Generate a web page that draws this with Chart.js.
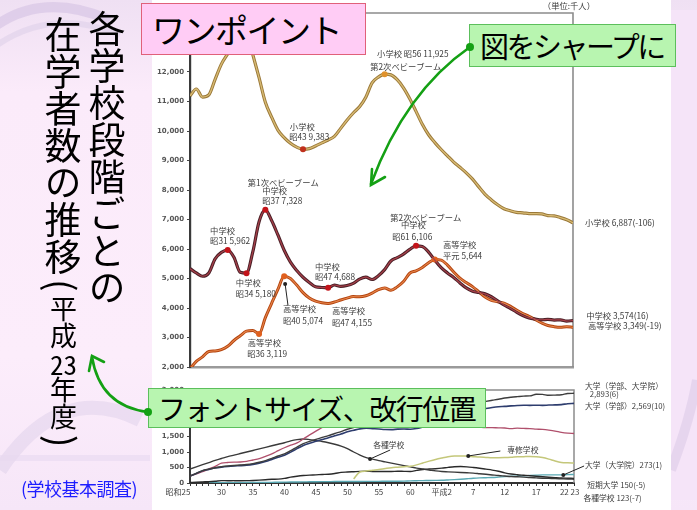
<!DOCTYPE html>
<html><head><meta charset="utf-8">
<script src="https://cdn.jsdelivr.net/npm/chart.js@4.4.1/dist/chart.umd.min.js"></script>
<style>
html,body{margin:0;padding:0;width:697px;height:510px;overflow:hidden;}
body{position:relative;background:linear-gradient(180deg,#efe0f3 0%,#fbebfa 18%,#fcedfb 70%,#f6e6f8 100%);font-family:"Noto Sans CJK JP",sans-serif;}
#deco{position:absolute;left:0;top:0;z-index:0;}
#panel{position:absolute;left:152px;top:0;width:519px;height:510px;background:#fff;z-index:1;}
canvas{position:absolute;left:0;top:0;z-index:2;}
.box{position:absolute;box-sizing:border-box;white-space:nowrap;color:#000;line-height:1;display:flex;align-items:center;z-index:4;font-family:"Noto Sans CJK JP",sans-serif;}
#b1{left:141px;top:3px;width:225px;height:52px;background:#ffccf5;border:1.5px solid #e0607a;font-size:33px;letter-spacing:-1.5px;padding-left:10px;}
#b2{left:469px;top:24px;width:207px;height:43px;background:#b8f5b0;border:1.5px solid #5cbf5c;font-size:29px;letter-spacing:-2.5px;padding-left:10px;}
#b3{left:148px;top:388px;width:338px;height:40px;background:#b8f5b0;border:1.5px solid #5cbf5c;font-size:28px;letter-spacing:-1.5px;padding-left:9px;}
.vt{position:absolute;writing-mode:vertical-rl;line-height:1;color:#000;z-index:3;font-family:"Noto Sans CJK JP",sans-serif;white-space:nowrap;}
.tcy{text-combine-upright:all;}
.par{font-size:37px;margin-inline:4px;}
#src{position:absolute;left:21px;top:475px;font-size:18px;color:#1e1eff;z-index:3;white-space:nowrap;letter-spacing:-0.5px;}
#arrows{position:absolute;left:0;top:0;z-index:5;}
</style>
</head>
<body>
<svg id="deco" width="697" height="510">
  <path d="M-10,30 Q40,-10 110,20" stroke="#d4c2e2" stroke-width="10" fill="none" opacity="0.6"/>
  <path d="M-10,50 Q50,5 120,35" stroke="#ddd0ea" stroke-width="6" fill="none" opacity="0.6"/>
  <path d="M0,470 Q60,380 140,420" stroke="#ddd0ea" stroke-width="14" fill="none" opacity="0.5"/>
  <rect x="0" y="455" width="150" height="6" fill="#e8d8f0" opacity="0.6"/>
  <rect x="671" y="10" width="26" height="490" fill="#f5e4f8"/>
  <path d="M671,470 Q690,420 697,380" stroke="#dccbe8" stroke-width="10" fill="none" opacity="0.6"/>
</svg>
<div id="panel"></div>
<canvas id="c1" width="697" height="510"></canvas>
<canvas id="c2" width="697" height="510"></canvas>

<div class="vt" style="left:88px;top:10px;font-size:37px;">各学校段階ごとの</div>
<div class="vt" style="left:44px;top:16px;font-size:37px;">在学者数の推移<span class="par">(</span><span style="font-size:27px">平成<span class="tcy">23</span>年度</span><span class="par">)</span></div>
<div id="src">(学校基本調査)</div>

<div class="box" id="b1">ワンポイント</div>
<div class="box" id="b2">図をシャープに</div>
<div class="box" id="b3">フォントサイズ、改行位置</div>

<svg id="arrows" width="697" height="510">
  <g stroke="#14a014" stroke-width="2.6" fill="none" stroke-linecap="round">
    <path d="M470,47 Q405,92 371,184"/>
    <path d="M372,169 L371,185 L385,177"/>
    <path d="M148,412 Q100,406 92,357"/>
    <path d="M89,371 L92,356 L104,362"/>
  </g>
  <circle cx="470" cy="47" r="4" fill="#14a014"/>
  <circle cx="148" cy="412" r="4" fill="#14a014"/>
</svg>

<script>
// ---------- data (thousands of students) ----------
const years = [1950,1951,1952,1953,1954,1955,1956,1957,1958,1959,
  1960,1961,1962,1963,1964,1965,1966,1967,1968,1969,
  1970,1971,1972,1973,1974,1975,1976,1977,1978,1979,
  1980,1981,1982,1983,1984,1985,1986,1987,1988,1989,
  1990,1991,1992,1993,1994,1995,1996,1997,1998,1999,
  2000,2001,2002,2003,2004,2005,2006,2007,2008,2009,
  2010,2011];

const elementary = [11191,11423,11148,11225,11751,12267,12616,12956,13492,13375,
  12591,11811,10977,10471,10031,9776,9584,9452,9383,9404,
  9493,9596,9696,9816,10089,10365,10610,10819,11146,11630,
  11827,11925,11902,11739,11465,11095,10665,10227,9873,9607,
  9373,9157,8947,8769,8583,8370,8106,7855,7664,7500,
  7366,7297,7239,7227,7201,7197,7188,7133,7122,7064,
  6993,6887];

const juniorHigh = [5333,5188,5076,5187,5664,5884,5962,5718,5210,5180,
  5900,6925,7328,6964,6475,5957,5556,5271,5043,4865,
  4717,4694,4688,4779,4735,4762,4833,4977,5048,4966,
  5094,5300,5594,5707,5828,5990,6106,6081,5896,5619,
  5369,5189,5037,4850,4681,4571,4528,4481,4381,4244,
  4104,3992,3863,3748,3664,3626,3602,3615,3592,3600,
  3558,3574];

const highSchool = [1935,2193,2342,2528,2545,2592,2703,2898,3057,3216,
  3239,3119,3675,4159,4634,5074,4998,4776,4522,4337,
  4232,4179,4155,4201,4270,4333,4386,4380,4414,4504,
  4622,4682,4601,4716,4896,5178,5259,5375,5534,5644,
  5623,5455,5218,5010,4863,4725,4547,4371,4258,4212,
  4165,4062,3929,3810,3719,3605,3495,3407,3367,3347,
  3368,3349];

const univTotal = [225,313,400,447,492,523,547,565,579,597,
  626,669,723,796,872,938,1044,1160,1270,1345,
  1407,1470,1530,1597,1659,1734,1791,1840,1863,1849,
  1835,1822,1818,1836,1844,1849,1880,1935,1995,2067,
  2133,2205,2293,2390,2482,2547,2597,2634,2668,2701,
  2740,2766,2786,2804,2809,2865,2859,2829,2836,2846,
  2887,2893];

const univUndergrad = [224,310,395,440,483,512,533,549,560,575,
  601,642,693,762,834,896,997,1108,1213,1285,
  1344,1404,1461,1524,1581,1652,1702,1747,1766,1754,
  1742,1728,1723,1738,1741,1734,1758,1805,1856,1917,
  1989,2056,2139,2222,2298,2330,2366,2403,2436,2461,
  2471,2487,2500,2507,2505,2509,2505,2514,2520,2528,
  2559,2569];

const kindergarten = [225,296,363,454,537,644,662,673,678,697,
  742,790,861,941,1042,1138,1222,1293,1420,1552,
  1675,1790,1915,2073,2220,2293,2372,2453,2497,2487,
  2407,2293,2228,2192,2125,2067,2018,2017,2041,2037,
  2008,1978,1949,1908,1852,1808,1798,1789,1786,1779,
  1774,1753,1770,1761,1753,1738,1727,1705,1675,1631,
  1606,1596];

const specialTraining = [null,null,null,null,null,null,null,null,null,null,
  null,null,null,null,null,null,null,null,null,null,
  null,null,null,null,null,null,131,357,385,410,
  432,465,495,510,525,540,585,645,705,760,
  805,845,870,875,865,850,835,825,815,815,
  820,830,845,850,855,850,820,770,710,665,
  650,645];

const miscSchools = [450,520,590,660,730,790,850,900,950,1000,
  1050,1100,1150,1200,1250,1300,1360,1400,1420,1400,
  1370,1340,1300,1250,1190,1110,1000,900,820,770,
  720,680,640,600,560,520,480,450,420,390,
  370,360,350,340,330,320,300,280,260,240,
  225,210,200,190,175,165,155,148,140,135,
  130,123];

const juniorCollege = [15,27,36,44,58,77,74,75,74,76,
  83,93,106,121,126,148,189,218,240,254,
  263,276,284,307,343,354,364,374,379,372,
  371,372,372,380,375,371,407,437,450,462,
  479,504,524,530,520,499,474,446,417,378,
  328,290,267,250,233,219,202,186,172,160,
  155,150];

const gradSchool = [null,null,null,2,6,10,11,12,13,14,
  16,17,18,21,25,28,31,33,35,38,
  41,43,45,47,48,48,49,50,51,53,
  54,55,56,58,61,70,74,78,81,85,
  90,99,109,122,138,153,164,171,178,191,
  205,216,224,231,244,254,261,262,263,263,
  271,273];

// highlighted points (years)
const elemMarks = [1968, 1981];
const jhMarks = [1956, 1959, 1962, 1972, 1986];
const hsMarks = [1961, 1965, 1989];

// x-axis tick labels of lower chart
const lowerTickYears  = [1950,1955,1960,1965,1970,1975,1980,1985,1990,1995,2000,2005,2010];
const lowerTickLabels = ['昭和25','30','35','40','45','50','55','60','平成2','7','12','17','22 23'];

// annotation texts (anchored in data units)
const upperNotes = [
  {x:1979.8, y:12610, t:'小学校 昭56 11,925'},
  {x:1978.7, y:12170, t:'第2次ベビーブーム'},
  {x:1965.9, y:10136, t:'小学校'},
  {x:1965.8, y:9797,  t:'昭43 9,383'},
  {x:1959.2, y:8237,  t:'第1次ベビーブーム'},
  {x:1961.5, y:7980,  t:'中学校'},
  {x:1961.5, y:7627,  t:'昭37 7,328'},
  {x:1953.2, y:6610,  t:'中学校'},
  {x:1953.2, y:6271,  t:'昭31 5,962'},
  {x:1957.3, y:4847,  t:'中学校'},
  {x:1957.3, y:4475,  t:'昭34 5,180'},
  {x:1969.9, y:5390,  t:'中学校'},
  {x:1969.9, y:5051,  t:'昭47 4,688'},
  {x:1964.8, y:3966,  t:'高等学校'},
  {x:1964.8, y:3559,  t:'昭40 5,074'},
  {x:1972.6, y:3898,  t:'高等学校'},
  {x:1972.6, y:3492,  t:'昭47 4,155'},
  {x:1959.2, y:2814,  t:'高等学校'},
  {x:1959.1, y:2441,  t:'昭36 3,119'},
  {x:1981.9, y:7051,  t:'第2次ベビーブーム'},
  {x:1983.6, y:6814,  t:'中学校'},
  {x:1982.2, y:6407,  t:'昭61 6,106'},
  {x:1990.3, y:6136,  t:'高等学校'},
  {x:1990.3, y:5763,  t:'平元 5,644'},
  {x:2012.9, y:6881,  t:'小学校 6,887(-106)'},
  {x:2013.1, y:3729,  t:'中学校 3,574(16)'},
  {x:2013.4, y:3390,  t:'高等学校 3,349(-19)'},
  {x:2006.2, y:14237, t:'（単位:千人）'}
];
const upperPointers = [ {x1:1965.15, y1:4814, x2:1965.6, y2:4102} ];

const lowerNotes = [
  {x:1979.1, y:1226, t:'各種学校'},
  {x:2000.4, y:1065, t:'専修学校'},
  {x:2012.75, y:3129, t:'大学（学部、大学院）'},
  {x:2013.5, y:2871, t:'2,893(6)'},
  {x:2012.75, y:2484, t:'大学（学部）2,569(10)'},
  {x:2012.75, y:581,  t:'大学（大学院）273(1)'},
  {x:2013.1, y:-65,  t:'短期大学 150(-5)'},
  {x:2012.5, y:-484, t:'各種学校 123(-7)'}
];
const lowerPointers = [
  {x1:1978.6, y1:774, x2:1981.8, y2:1065},
  {x1:1994.2, y1:871, x2:1999.3, y2:1032},
  {x1:2009.3, y1:258, x2:2012.6, y2:548}
];

// ---------- helpers ----------
const pts = arr => years.map((yr, i) => ({x: yr, y: arr[i]}));

const notesPlugin = {
  id: 'notes',
  afterDatasetsDraw(chart, args, opts) {
    const {ctx, scales: {x, y}} = chart;
    ctx.save();
    ctx.font = opts.font;
    ctx.fillStyle = opts.color;
    ctx.textBaseline = 'middle';
    ctx.textAlign = 'left';
    opts.items.forEach(n => ctx.fillText(n.t, x.getPixelForValue(n.x), y.getPixelForValue(n.y)));
    ctx.strokeStyle = '#222';
    ctx.fillStyle = '#222';
    ctx.lineWidth = 1;
    opts.pointers.forEach(p => {
      const x1 = x.getPixelForValue(p.x1), y1 = y.getPixelForValue(p.y1);
      const x2 = x.getPixelForValue(p.x2), y2 = y.getPixelForValue(p.y2);
      ctx.beginPath(); ctx.moveTo(x1, y1); ctx.lineTo(x2, y2); ctx.stroke();
      ctx.beginPath(); ctx.arc(x1, y1, 2, 0, Math.PI * 2); ctx.fill();
    });
    ctx.restore();
  }
};

const framePlugin = {
  id: 'frame',
  beforeDatasetsDraw(chart, args, opts) {
    const {ctx, chartArea: a} = chart;
    ctx.save();
    ctx.strokeStyle = opts.color;
    ctx.lineWidth = opts.width;
    ctx.beginPath();
    ctx.moveTo(a.left, a.top); ctx.lineTo(a.right, a.top); ctx.lineTo(a.right, a.bottom);
    ctx.stroke();
    ctx.restore();
  }
};

const fmt = v => v.toLocaleString('en-US');

function lineDS(data, color, width, order, extra) {
  return Object.assign({
    data: data, borderColor: color, borderWidth: width, order: order,
    pointRadius: 0, cubicInterpolationMode: 'monotone', spanGaps: false, fill: false
  }, extra || {});
}

function markRadius(marks) {
  return c => marks.includes(years[c.dataIndex]) ? 3 : 0;
}

function lowerTick(v) {
  const i = lowerTickYears.indexOf(v);
  if (i < 0) return '';
  if (i === 0) return lowerTickLabels[i] + '\u2002\u2002\u2002\u2002\u2002\u2002';
  if (i === lowerTickLabels.length - 1) return '\u2002' + lowerTickLabels[i];
  return lowerTickLabels[i];
}

// ---------- upper chart ----------
new Chart(document.getElementById('c1'), {
  type: 'line',
  data: {
    datasets: [
      lineDS(pts(elementary), '#d8bb74', 1.3, 0, {
        pointRadius: markRadius(elemMarks), pointBorderWidth: 0,
        pointBackgroundColor: c => years[c.dataIndex] === 1968 ? '#c0301c' : '#e0922c'
      }),
      lineDS(pts(elementary), '#9a7838', 3.2, 3),
      lineDS(pts(juniorHigh), '#a8404a', 1.2, 0, {
        pointRadius: markRadius(jhMarks), pointBorderWidth: 0, pointBackgroundColor: '#c3141a'
      }),
      lineDS(pts(juniorHigh), '#4a2027', 3.2, 3),
      lineDS(pts(highSchool), '#e6844a', 1.1, 0, {
        pointRadius: markRadius(hsMarks), pointBorderWidth: 0, pointBackgroundColor: '#e0601e'
      }),
      lineDS(pts(highSchool), '#b4440e', 3.0, 3)
    ]
  },
  options: {
    responsive: false, animation: false, events: [],
    layout: {padding: {left: 150, top: 13, right: 124, bottom: 143}},
    plugins: {
      legend: {display: false}, tooltip: {enabled: false},
      notes: {items: upperNotes, pointers: upperPointers, font: '8.3px "Noto Sans CJK JP"', color: '#3c3c3c'},
      frame: {color: '#8c8c8c', width: 1.6}
    },
    scales: {
      x: {
        type: 'linear', min: 1950, max: 2011,
        ticks: {display: false}, grid: {display: false},
        border: {display: true, color: '#9a9a9a', width: 2.6},
        afterFit: s => { s.height = 0; }
      },
      y: {
        min: 2000, max: 14000,
        ticks: {stepSize: 1000, callback: v => fmt(v), font: {size: 7, weight: 'bold', family: 'DejaVu Sans'}, color: '#555', padding: 3},
        grid: {drawOnChartArea: false, tickLength: 3, color: '#444'},
        border: {display: true, color: '#3a3a3a', width: 2.2},
        afterFit: s => { s.width = 40; }
      }
    }
  },
  plugins: [notesPlugin, framePlugin]
});

// ---------- lower chart ----------
new Chart(document.getElementById('c2'), {
  type: 'line',
  data: {
    datasets: [
      lineDS(pts(univTotal), '#3d3d3d', 1.4, 1),
      lineDS(pts(univUndergrad), '#2e3d6e', 1.6, 1),
      lineDS(pts(kindergarten), '#b0506c', 1.3, 1),
      lineDS(pts(specialTraining), '#c4c77a', 1.5, 1),
      lineDS(pts(miscSchools), '#3a3a3a', 1.4, 1),
      lineDS(pts(juniorCollege), '#2a2a2a', 1.4, 1),
      lineDS(pts(gradSchool), '#5aa9b4', 1.4, 1)
    ]
  },
  options: {
    responsive: false, animation: false, events: [],
    layout: {padding: {left: 150, top: 390, right: 123, bottom: 10}},
    plugins: {
      legend: {display: false}, tooltip: {enabled: false},
      notes: {items: lowerNotes, pointers: lowerPointers, font: '7.8px "Noto Sans CJK JP"', color: '#3c3c3c'},
      frame: {color: '#8c8c8c', width: 1.5}
    },
    scales: {
      x: {
        type: 'linear', min: 1950, max: 2011,
        ticks: {
          stepSize: 1, autoSkip: false, maxRotation: 0, padding: 1,
          callback: v => lowerTick(v),
          font: {size: 8, family: '"Noto Sans CJK JP"'}, color: '#444'
        },
        grid: {drawOnChartArea: false, tickLength: 3, color: '#333'},
        border: {display: true, color: '#333', width: 2},
        afterFit: s => { s.height = 17; }
      },
      y: {
        min: 0, max: 3000,
        ticks: {stepSize: 500, callback: v => fmt(v), font: {size: 7, weight: 'bold', family: 'DejaVu Sans'}, color: '#555', padding: 3},
        grid: {drawOnChartArea: false, tickLength: 3, color: '#444'},
        border: {display: true, color: '#3a3a3a', width: 2},
        afterFit: s => { s.width = 40; }
      }
    }
  },
  plugins: [notesPlugin, framePlugin]
});
</script>
</body></html>
